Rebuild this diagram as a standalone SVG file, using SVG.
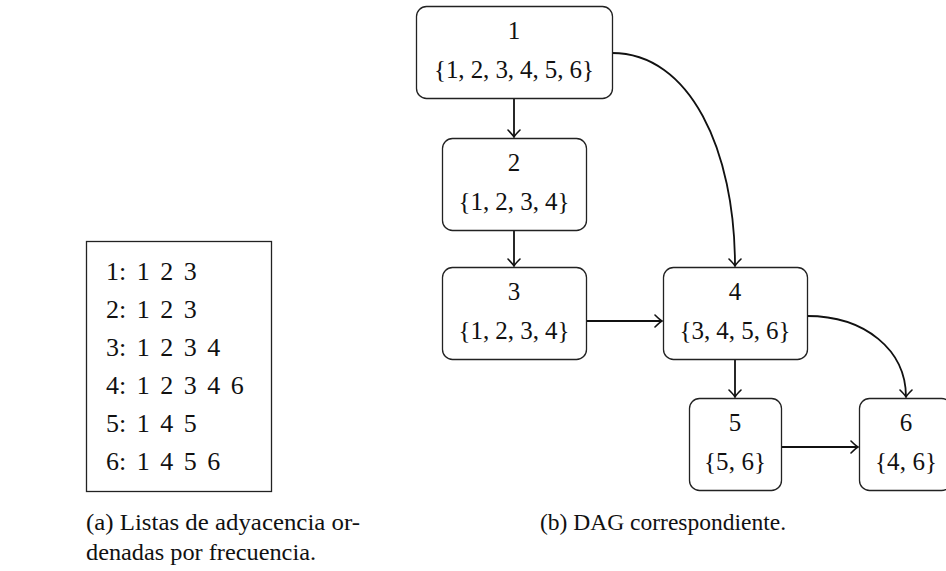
<svg xmlns="http://www.w3.org/2000/svg" width="946" height="571" viewBox="0 0 946 571" font-family="'Liberation Serif', 'Times New Roman', 'DejaVu Serif', serif">
  <style>
    text { font-family: "Liberation Serif", "Times New Roman", "DejaVu Serif", serif; fill: #111; }
    .lbl { font-size: 25px; text-anchor: middle; }
    .lst { font-size: 26px; word-spacing: 4px; }
    .cap { font-size: 24px; }
    .node rect { fill: #fff; stroke: #222; stroke-width: 1.3; }
    .edge { fill: none; stroke: #111; stroke-width: 1.8; marker-end: url(#arr); }
  </style>
  <defs>
    <marker id="arr" viewBox="-9 -7 11 14" markerWidth="11" markerHeight="14" refX="0" refY="0" orient="auto" markerUnits="userSpaceOnUse">
      <path d="M-7,-6 Q-2.2,-1.2 0,0 Q-2.2,1.2 -7,6" fill="none" stroke="#111" stroke-width="1.6" stroke-linecap="round"/>
    </marker>
  </defs>

  <!-- (a) adjacency lists -->
  <g id="lists">
    <rect x="86.5" y="241.5" width="185" height="250" fill="#fff" stroke="#222" stroke-width="1.3"/>
    <text class="lst" x="106" y="280">1: 1 2 3</text>
    <text class="lst" x="106" y="318">2: 1 2 3</text>
    <text class="lst" x="106" y="356">3: 1 2 3 4</text>
    <text class="lst" x="106" y="394">4: 1 2 3 4 6</text>
    <text class="lst" x="106" y="432">5: 1 4 5</text>
    <text class="lst" x="106" y="470">6: 1 4 5 6</text>
  </g>

  <!-- (b) DAG -->
  <g id="edges">
    <path class="edge" d="M514,98 L514,137"/>
    <path class="edge" d="M514,230 L514,266"/>
    <path class="edge" d="M586,321 L662,321"/>
    <path class="edge" d="M735,359 L735,397"/>
    <path class="edge" d="M781,447 L858,447"/>
    <path class="edge" d="M612,53 C690,53 735,150 735,266"/>
    <path class="edge" d="M807,316 C865,316 906,350 906,397"/>
  </g>

  <g id="n1" class="node">
    <rect x="416.5" y="6.5" width="196" height="92" rx="10"/>
    <text class="lbl" x="514" y="39">1</text>
    <text class="lbl" x="514" y="78" textLength="160" lengthAdjust="spacing">{1, 2, 3, 4, 5, 6}</text>
  </g>
  <g id="n2" class="node">
    <rect x="442.5" y="138.5" width="144" height="92" rx="10"/>
    <text class="lbl" x="514" y="171">2</text>
    <text class="lbl" x="514" y="210" textLength="111" lengthAdjust="spacing">{1, 2, 3, 4}</text>
  </g>
  <g id="n3" class="node">
    <rect x="442.5" y="267.5" width="144" height="92" rx="10"/>
    <text class="lbl" x="514" y="300">3</text>
    <text class="lbl" x="514" y="339" textLength="111" lengthAdjust="spacing">{1, 2, 3, 4}</text>
  </g>
  <g id="n4" class="node">
    <rect x="663.5" y="267.5" width="144" height="92" rx="10"/>
    <text class="lbl" x="735" y="300">4</text>
    <text class="lbl" x="735" y="339" textLength="111" lengthAdjust="spacing">{3, 4, 5, 6}</text>
  </g>
  <g id="n5" class="node">
    <rect x="689.5" y="398.5" width="92" height="92" rx="10"/>
    <text class="lbl" x="735" y="431">5</text>
    <text class="lbl" x="735" y="470" textLength="62" lengthAdjust="spacing">{5, 6}</text>
  </g>
  <g id="n6" class="node">
    <rect x="859.5" y="398.5" width="92" height="92" rx="10"/>
    <text class="lbl" x="906" y="431">6</text>
    <text class="lbl" x="906" y="470" textLength="62" lengthAdjust="spacing">{4, 6}</text>
  </g>

  <!-- captions -->
  <text class="cap" x="86" y="530" textLength="274" lengthAdjust="spacingAndGlyphs">(a) Listas de adyacencia or-</text>
  <text class="cap" x="86" y="560" textLength="230" lengthAdjust="spacingAndGlyphs">denadas por frecuencia.</text>
  <text class="cap" x="540" y="530" textLength="246" lengthAdjust="spacingAndGlyphs">(b) DAG correspondiente.</text>
</svg>
